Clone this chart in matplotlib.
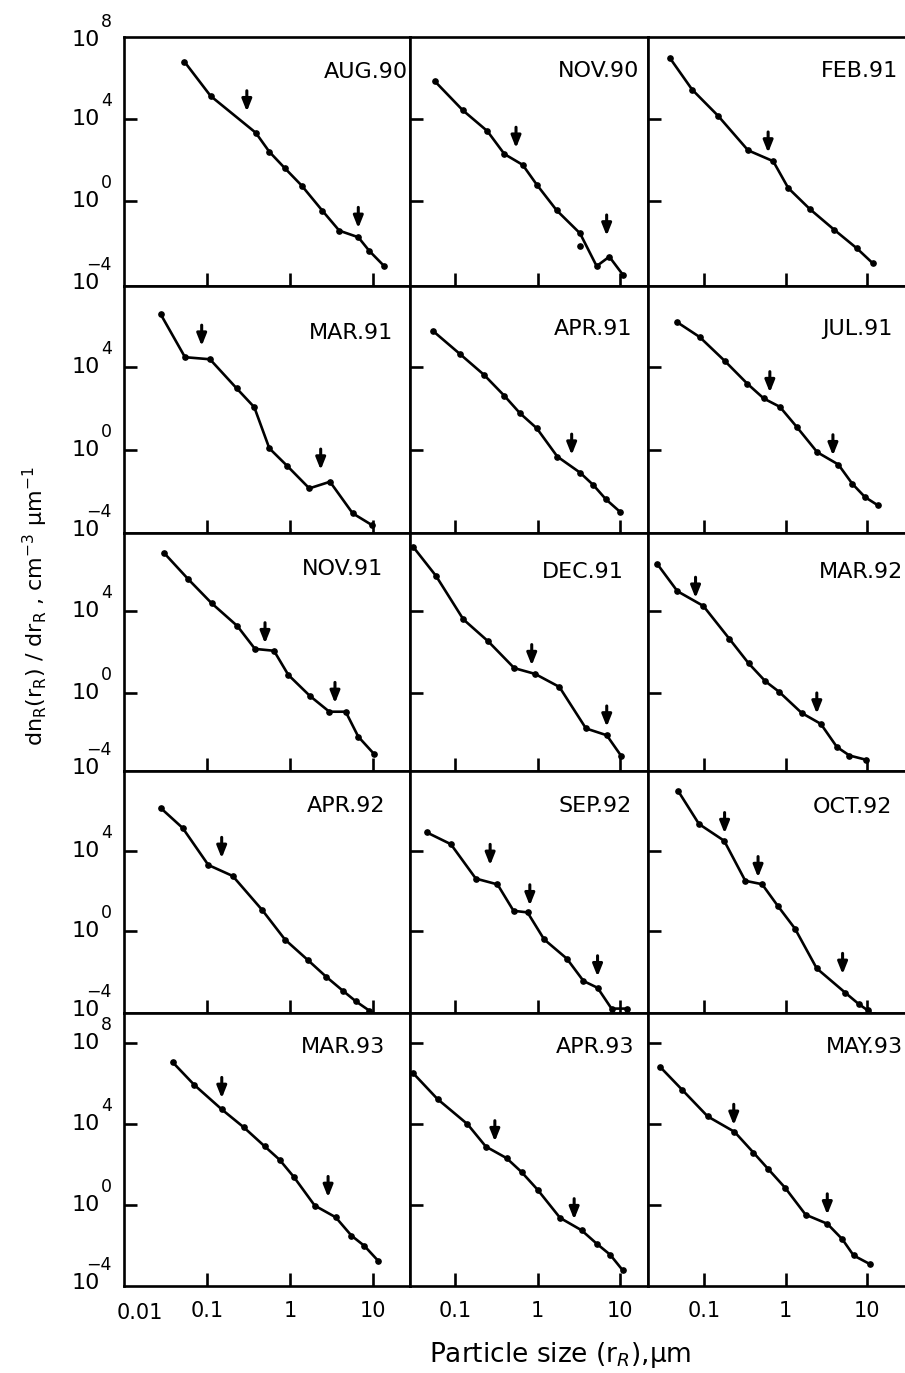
import numpy as np
import matplotlib
matplotlib.use("Agg")
import matplotlib.pyplot as plt
from matplotlib.ticker import NullLocator, FixedLocator
import matplotlib.transforms as mtransforms

# ---------------- data (log10 values) ----------------
panel_labels = ["AUG.90", "NOV.90", "FEB.91",
                "MAR.91", "APR.91", "JUL.91",
                "NOV.91", "DEC.91", "MAR.92",
                "APR.92", "SEP.92", "OCT.92",
                "MAR.93", "APR.93", "MAY.93"]

aug90_logr = [-1.273, -0.956, -0.413, -0.249, -0.060, 0.141, 0.389, 0.594, 0.823, 0.956, 1.133]
aug90_logn = [6.80, 5.12, 3.33, 2.40, 1.59, 0.75, -0.47, -1.45, -1.77, -2.44, -3.17]
aug90_arrow_logr = [-0.52, 0.823]
aug90_arrow_logn = [4.36, -1.33]

nov90_logr = [-1.239, -0.905, -0.607, -0.401, -0.179, -0.010, 0.232, 0.514, 0.715, 0.868, 1.030]
nov90_logn = [5.83, 4.43, 3.41, 2.29, 1.76, 0.80, -0.46, -1.58, -3.18, -2.72, -3.59]
nov90_extra_logr = [0.514]
nov90_extra_logn = [-2.19]
nov90_arrow_logr = [-0.260, 0.836]
nov90_arrow_logn = [2.58, -1.70]

feb91_logr = [-1.411, -1.141, -0.826, -0.458, -0.151, 0.033, 0.298, 0.593, 0.871, 1.063]
feb91_logn = [6.96, 5.43, 4.16, 2.47, 1.94, 0.63, -0.40, -1.40, -2.31, -3.03]
feb91_arrow_logr = [-0.213]
feb91_arrow_logn = [2.35]

mar91_logr = [-1.558, -1.265, -0.964, -0.643, -0.430, -0.249, -0.033, 0.233, 0.482, 0.755, 0.984]
mar91_logn = [6.54, 4.47, 4.37, 2.97, 2.06, 0.08, -0.77, -1.85, -1.53, -3.05, -3.61]
mar91_arrow_logr = [-1.064, 0.370]
mar91_arrow_logn = [5.01, -0.96]

apr91_logr = [-1.260, -0.937, -0.647, -0.401, -0.212, -0.010, 0.240, 0.514, 0.675, 0.828, 0.998]
apr91_logn = [5.72, 4.62, 3.62, 2.61, 1.77, 1.05, -0.32, -1.09, -1.69, -2.38, -2.98]
apr91_arrow_logr = [0.413]
apr91_arrow_logn = [-0.24]

jul91_logr = [-1.326, -1.049, -0.743, -0.469, -0.266, -0.070, 0.135, 0.388, 0.645, 0.816, 0.971, 1.130]
jul91_logn = [6.16, 5.44, 4.29, 3.20, 2.48, 2.08, 1.12, -0.11, -0.70, -1.63, -2.27, -2.67]
jul91_arrow_logr = [-0.192, 0.579]
jul91_arrow_logn = [2.77, -0.27]

nov91_logr = [-1.514, -1.225, -0.944, -0.635, -0.422, -0.193, -0.020, 0.241, 0.474, 0.671, 0.823, 1.016]
nov91_logn = [6.78, 5.52, 4.36, 3.26, 2.15, 2.06, 0.89, -0.13, -0.89, -0.89, -2.10, -2.95]
nov91_arrow_logr = [-0.301, 0.542]
nov91_arrow_logn = [2.41, -0.48]

dec91_logr = [-1.502, -1.227, -0.897, -0.595, -0.281, -0.030, 0.264, 0.586, 0.837, 1.010]
dec91_logn = [7.08, 5.68, 3.58, 2.51, 1.22, 0.94, 0.31, -1.70, -2.03, -3.02]
dec91_arrow_logr = [-0.070, 0.837]
dec91_arrow_logn = [1.35, -1.62]

mar92_logr = [-1.568, -1.321, -1.005, -0.685, -0.451, -0.246, -0.081, 0.197, 0.431, 0.628, 0.781, 0.978]
mar92_logn = [6.26, 4.94, 4.23, 2.63, 1.45, 0.58, 0.08, -0.95, -1.48, -2.60, -3.01, -3.21]
mar92_arrow_logr = [-1.100, 0.382]
mar92_arrow_logn = [4.61, -0.99]

apr92_logr = [-1.558, -1.293, -0.984, -0.690, -0.333, -0.060, 0.220, 0.434, 0.635, 0.795, 0.955]
apr92_logn = [6.15, 5.15, 3.30, 2.75, 1.04, -0.43, -1.47, -2.28, -2.98, -3.52, -3.98]
apr92_arrow_logr = [-0.823]
apr92_arrow_logn = [3.64]

sep92_logr = [-1.339, -1.048, -0.746, -0.484, -0.290, -0.121, 0.080, 0.354, 0.556, 0.726, 0.895, 1.080]
sep92_logn = [4.93, 4.34, 2.62, 2.33, 1.01, 0.93, -0.42, -1.38, -2.50, -2.84, -3.88, -3.88]
sep92_arrow_logr = [-0.573, -0.093, 0.726]
sep92_arrow_logn = [3.29, 1.27, -2.28]

oct92_logr = [-1.311, -1.058, -0.750, -0.492, -0.287, -0.094, 0.115, 0.381, 0.731, 0.894, 1.005, 1.075]
oct92_logn = [6.99, 5.35, 4.51, 2.51, 2.34, 1.25, 0.12, -1.87, -3.09, -3.65, -3.97, -4.19]
oct92_arrow_logr = [-0.745, -0.336, 0.697]
oct92_arrow_logn = [4.88, 2.68, -2.16]

mar93_logr = [-1.415, -1.153, -0.822, -0.556, -0.307, -0.126, 0.048, 0.298, 0.551, 0.741, 0.895, 1.064]
mar93_logn = [7.05, 5.92, 4.71, 3.82, 2.89, 2.22, 1.36, -0.05, -0.63, -1.54, -2.04, -2.79]
mar93_arrow_logr = [-0.822, 0.459]
mar93_arrow_logn = [5.26, 0.36]

apr93_logr = [-1.508, -1.209, -0.847, -0.625, -0.375, -0.193, 0.0, 0.273, 0.532, 0.717, 0.878, 1.028]
apr93_logn = [6.52, 5.22, 3.98, 2.87, 2.30, 1.61, 0.74, -0.66, -1.27, -1.94, -2.48, -3.24]
apr93_arrow_logr = [-0.516, 0.443]
apr93_arrow_logn = [3.12, -0.74]

may93_logr = [-1.530, -1.266, -0.951, -0.624, -0.392, -0.217, -0.005, 0.245, 0.510, 0.693, 0.832, 1.028]
may93_logn = [6.80, 5.69, 4.36, 3.60, 2.57, 1.78, 0.83, -0.50, -0.95, -1.71, -2.52, -2.94]
may93_arrow_logr = [-0.633, 0.510]
may93_arrow_logn = [3.93, -0.50]

x_tick_values = [0.1, 1, 10]
x_tick_labels = ["0.1", "1", "10"]

series = [
    (aug90_logr, aug90_logn, aug90_arrow_logr, aug90_arrow_logn),
    (nov90_logr, nov90_logn, nov90_arrow_logr, nov90_arrow_logn),
    (feb91_logr, feb91_logn, feb91_arrow_logr, feb91_arrow_logn),
    (mar91_logr, mar91_logn, mar91_arrow_logr, mar91_arrow_logn),
    (apr91_logr, apr91_logn, apr91_arrow_logr, apr91_arrow_logn),
    (jul91_logr, jul91_logn, jul91_arrow_logr, jul91_arrow_logn),
    (nov91_logr, nov91_logn, nov91_arrow_logr, nov91_arrow_logn),
    (dec91_logr, dec91_logn, dec91_arrow_logr, dec91_arrow_logn),
    (mar92_logr, mar92_logn, mar92_arrow_logr, mar92_arrow_logn),
    (apr92_logr, apr92_logn, apr92_arrow_logr, apr92_arrow_logn),
    (sep92_logr, sep92_logn, sep92_arrow_logr, sep92_arrow_logn),
    (oct92_logr, oct92_logn, oct92_arrow_logr, oct92_arrow_logn),
    (mar93_logr, mar93_logn, mar93_arrow_logr, mar93_arrow_logn),
    (apr93_logr, apr93_logn, apr93_arrow_logr, apr93_arrow_logn),
    (may93_logr, may93_logn, may93_arrow_logr, may93_arrow_logn),
]

# ---------------- layout (pixels) ----------------
W, H = 905, 1373
PT = 0.72  # points per pixel at dpi 100
col_px = [(124, 410), (410, 648), (648, 906)]
row_px = [(37, 286), (286, 533), (533, 771), (771, 1013), (1013, 1286)]
col_xlim = [(-2.0, 1.446), (-1.542, 1.336), (-1.681, 1.472)]
row_ylim = [(-4.15, 8.0), (-4.0, 7.9), (-3.76, 7.76), (-4.1, 8.0), (-4.03, 9.48)]
label_off = [(2, 25), (9, 24), (8, 24), (17, 37), (16, 33), (13, 33), (27, 26), (24, 29),
             (3, 29), (25, 25), (16, 25), (14, 26), (25, 24), (14, 24), (3, 24)]

plt.rcParams['font.family'] = ['DejaVu Sans']
fig = plt.figure(figsize=(W / 100, H / 100), dpi=100)

LW = 1.9
for r in range(5):
    for c in range(3):
        i = r * 3 + c
        x0, x1 = col_px[c]
        y0, y1 = row_px[r]
        ax = fig.add_axes([x0 / W, 1 - y1 / H, (x1 - x0) / W, (y1 - y0) / H])
        ax.set_xscale('log')
        ax.set_yscale('log')
        ax.set_xlim(10 ** col_xlim[c][0], 10 ** col_xlim[c][1])
        ax.set_ylim(10 ** row_ylim[r][0], 10 ** row_ylim[r][1])
        for s in ax.spines.values():
            s.set_linewidth(1.9)
        if c == 2:
            ax.spines['right'].set_visible(False)

        lr, ln, alr, aln = series[i]
        xs = 10 ** np.array(lr)
        ys = 10 ** np.array(ln)
        ax.plot(xs, ys, '-', color='black', lw=LW, marker='o', ms=3.8,
                mfc='black', mec='black', solid_joinstyle='miter')
        if i == 1:
            ax.plot(10 ** np.array(nov90_extra_logr), 10 ** np.array(nov90_extra_logn),
                    'o', color='black', ms=3.8)
        for ar, an in zip(alr, aln):
            ax.annotate('', xy=(10 ** ar, 10 ** an), xytext=(0, 15),
                        textcoords='offset points',
                        arrowprops=dict(arrowstyle='-|>,head_length=0.45,head_width=0.18',
                                        mutation_scale=16, lw=2.2, color='black',
                                        shrinkA=0, shrinkB=0))

        # ticks
        ax.xaxis.set_major_locator(FixedLocator(x_tick_values))
        ax.xaxis.set_minor_locator(NullLocator())
        yt = [1e0, 1e4] + ([1e8] if r == 4 else [])
        ax.yaxis.set_major_locator(FixedLocator(yt))
        ax.yaxis.set_minor_locator(NullLocator())
        ax.tick_params(axis='both', which='major', direction='in', length=9.5, width=1.9,
                       top=False, right=False)
        ax.set_yticklabels([])
        if r == 4:
            ax.set_xticklabels(x_tick_labels)
            ax.tick_params(axis='x', labelsize=15, pad=11)
        else:
            ax.set_xticklabels([])

        # panel label
        dx, dy = label_off[i]
        ax.annotate(panel_labels[i], xy=(1, 1), xycoords='axes fraction',
                    xytext=(-dx * PT, -dy * PT), textcoords='offset points',
                    ha='right', va='top', fontsize=16)

        # y labels (first column only)
        if c == 0:
            tr_y = mtransforms.blended_transform_factory(ax.transAxes, ax.transData)

            def ylab(yv, exp, trans, dy_px=0):
                ax.annotate('10', xy=(0, yv), xycoords=trans,
                            xytext=(-24 * PT, -dy_px * PT), textcoords='offset points',
                            ha='right', va='center', fontsize=16, annotation_clip=False)
                ax.annotate(exp, xy=(0, yv), xycoords=trans,
                            xytext=(-12 * PT, (9 - dy_px) * PT), textcoords='offset points',
                            ha='right', va='bottom', fontsize=12.5, annotation_clip=False)

            ylab(1e4, '4', tr_y)
            ylab(1e0, '0', tr_y)
            if r == 4:
                ylab(1e8, '8', tr_y)
            if r == 0:
                ylab(1.0, '8', ax.transAxes, dy_px=3)
            ylab(0.0, '\u22124', ax.transAxes, dy_px=-3)
            if r == 4:
                ax.annotate('0.01', xy=(0, 0), xycoords='axes fraction',
                            xytext=(16 * PT, -27 * PT), textcoords='offset points',
                            ha='center', va='center', fontsize=15, annotation_clip=False)

fig.text(35 / W, 1 - 606 / H,
         'dn$_\\mathrm{R}$(r$_\\mathrm{R}$) / dr$_\\mathrm{R}$ , cm$^{-3}$ \u03bcm$^{-1}$',
         rotation=90, ha='center', va='center', fontsize=16)
fig.text(560 / W, 1 - 1362 / H, 'Particle size (r$_R$),\u03bcm',
         ha='center', va='baseline', fontsize=19)

fig.savefig('out.png', dpi=100)
